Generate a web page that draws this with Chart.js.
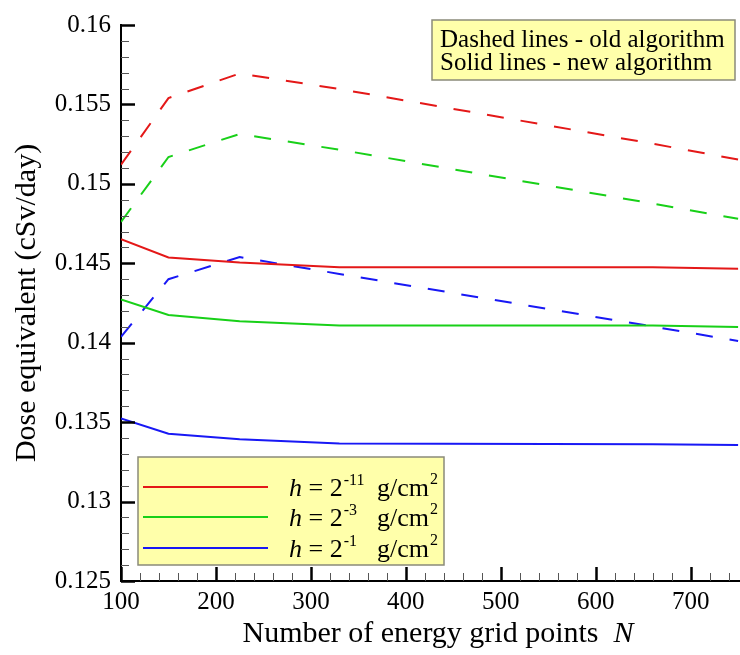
<!DOCTYPE html>
<html><head><meta charset="utf-8">
<script src="https://cdn.jsdelivr.net/npm/chart.js@4.4.1/dist/chart.umd.min.js"></script>
<style>html,body{margin:0;padding:0;background:#fff}</style>
</head><body>
<canvas id="c" width="740" height="655"></canvas>
<script>
// ---- data ----
const gridPoints = [100, 150, 225, 330, 660, 750];
const newH11 = [0.14651, 0.14537, 0.14505, 0.14475, 0.14475, 0.14466];
const newH3  = [0.14273, 0.14174, 0.14135, 0.14108, 0.14108, 0.14099];
const newH1  = [0.13524, 0.13427, 0.13392, 0.13365, 0.13361, 0.13356];
const oldH11 = [0.1512, 0.1554, 0.15695, 0.15597, 0.15253, 0.15153];
const oldH3  = [0.1476, 0.15169, 0.15314, 0.15215, 0.14876, 0.14780];
const oldH1  = [0.14037, 0.14400, 0.14539, 0.14433, 0.14102, 0.14011];
const exponents = ['-11', '-3', '-1'];
const yTickLabels = ['0.125', '0.13', '0.135', '0.14', '0.145', '0.15', '0.155', '0.16'];
const xTickLabels = ['100', '200', '300', '400', '500', '600', '700'];
const noteLines = ['Dashed lines - old algorithm', 'Solid lines - new algorithm'];
const xTitle = 'Number of energy grid points';
const xTitleVar = 'N';
const yTitle = 'Dose equivalent (cSv/day)';

const RED = 'rgb(228,24,24)', GREEN = 'rgb(24,208,24)', BLUE = 'rgb(24,24,245)';
const SERIF = '"Liberation Serif", "Times New Roman", serif';

const pts = arr => gridPoints.map((n, i) => ({x: n, y: arr[i]}));
const mk = (arr, color, dashed) => ({
  data: pts(arr), borderColor: color, backgroundColor: color, borderWidth: 2,
  borderDash: dashed ? [17, 17] : [], pointRadius: 0, tension: 0, fill: false
});

const decorPlugin = {
  id: 'decor',
  afterDatasetsDraw(chart) {
    const {ctx, chartArea: a, scales: {x, y}} = chart;
    ctx.save();
    for (let i = 0; i <= 35; i++) {
      const v = 0.125 + i * 0.001;
      const py = Math.round(y.getPixelForValue(v)) + 0.5;
      const major = i % 5 === 0;
      ctx.strokeStyle = major ? '#000' : '#555';
      ctx.lineWidth = major ? 2.5 : 1;
      ctx.beginPath(); ctx.moveTo(a.left, py); ctx.lineTo(a.left + (major ? 14 : 8), py); ctx.stroke();
    }
    for (let v = 100; v <= x.max; v += 20) {
      const px = Math.round(x.getPixelForValue(v)) + 0.5;
      const major = (v - 100) % 100 === 0;
      ctx.strokeStyle = major ? '#000' : '#555';
      ctx.lineWidth = major ? 2.5 : 1;
      ctx.beginPath(); ctx.moveTo(px, a.bottom); ctx.lineTo(px, a.bottom - (major ? 14 : 8)); ctx.stroke();
    }
    ctx.restore();
  },
  afterDraw(chart) {
    const {ctx, chartArea: a} = chart;
    ctx.save();
    // note box (top right)
    ctx.fillStyle = '#ffffaa'; ctx.strokeStyle = '#8a8a7a'; ctx.lineWidth = 1.5;
    ctx.fillRect(432, 20, 303, 60); ctx.strokeRect(432, 20, 303, 60);
    ctx.fillStyle = '#000'; ctx.font = '25px ' + SERIF; ctx.textBaseline = 'alphabetic'; ctx.textAlign = 'left';
    ctx.fillText(noteLines[0], 440, 47);
    ctx.fillText(noteLines[1], 440, 70);
    // series legend (bottom left)
    ctx.fillStyle = '#ffffaa';
    ctx.fillRect(138, 457, 306, 108); ctx.strokeRect(138, 457, 306, 108);
    const ds = chart.data.datasets;
    const rows = [487, 517, 548];
    rows.forEach((ly, i) => {
      ctx.strokeStyle = ds[i].borderColor; ctx.lineWidth = 2;
      ctx.beginPath(); ctx.moveTo(143, ly); ctx.lineTo(268, ly); ctx.stroke();
      const base = ly + 9;
      ctx.fillStyle = '#000';
      ctx.font = 'italic 26px ' + SERIF; ctx.fillText('h', 289, base);
      let xx = 289 + ctx.measureText('h').width;
      ctx.font = '26px ' + SERIF; ctx.fillText(' = 2', xx, base);
      xx += ctx.measureText(' = 2').width + 1;
      ctx.font = '16px ' + SERIF; ctx.fillText(exponents[i], xx, base - 11);
      ctx.font = '26px ' + SERIF; ctx.fillText('g/cm', 377, base);
      const gx = 377 + ctx.measureText('g/cm').width + 1;
      ctx.font = '16px ' + SERIF; ctx.fillText('2', gx, base - 12);
    });
    // axis titles
    ctx.fillStyle = '#000';
    ctx.font = '30px ' + SERIF;
    const w1 = ctx.measureText(xTitle + '  ').width;
    ctx.font = 'italic 30px ' + SERIF;
    const w2 = ctx.measureText(xTitleVar).width;
    const sx = 438 - (w1 + w2) / 2;
    ctx.font = '30px ' + SERIF; ctx.fillText(xTitle + '  ', sx, 642);
    ctx.font = 'italic 30px ' + SERIF; ctx.fillText(xTitleVar, sx + w1, 642);
    ctx.translate(35, (a.top + a.bottom) / 2);
    ctx.rotate(-Math.PI / 2);
    ctx.textAlign = 'center';
    ctx.font = '30px ' + SERIF;
    ctx.fillText(yTitle, 0, 0);
    ctx.restore();
  }
};

new Chart(document.getElementById('c'), {
  type: 'line',
  data: {
    datasets: [
      mk(newH11, RED, false), mk(newH3, GREEN, false), mk(newH1, BLUE, false),
      mk(oldH11, RED, true), mk(oldH3, GREEN, true), mk(oldH1, BLUE, true)
    ]
  },
  options: {
    responsive: false, animation: false, devicePixelRatio: 1,
    layout: {padding: {top: 18, right: 0, left: 0, bottom: 0}},
    plugins: {legend: {display: false}, tooltip: {enabled: false}},
    scales: {
      x: {
        type: 'linear', min: 100, max: 752,
        grid: {display: false, drawTicks: false},
        border: {display: true, color: '#000', width: 2},
        ticks: {
          stepSize: 100, includeBounds: false, padding: 6, color: '#000', maxRotation: 0,
          font: {family: SERIF, size: 25},
          callback: v => { const i = xTickLabels.indexOf(String(v)); return i >= 0 ? xTickLabels[i] : ''; }
        },
        afterFit: s => { s.height = 74; }
      },
      y: {
        type: 'linear', min: 0.125, max: 0.16,
        grid: {display: false, drawTicks: false},
        border: {display: true, color: '#000', width: 2},
        ticks: {
          stepSize: 0.005, padding: 10, color: '#000',
          font: {family: SERIF, size: 25},
          callback: v => yTickLabels[Math.round((v - 0.125) / 0.005)] || ''
        },
        afterFit: s => { s.width = 121; }
      }
    }
  },
  plugins: [decorPlugin]
});
</script>
</body></html>
